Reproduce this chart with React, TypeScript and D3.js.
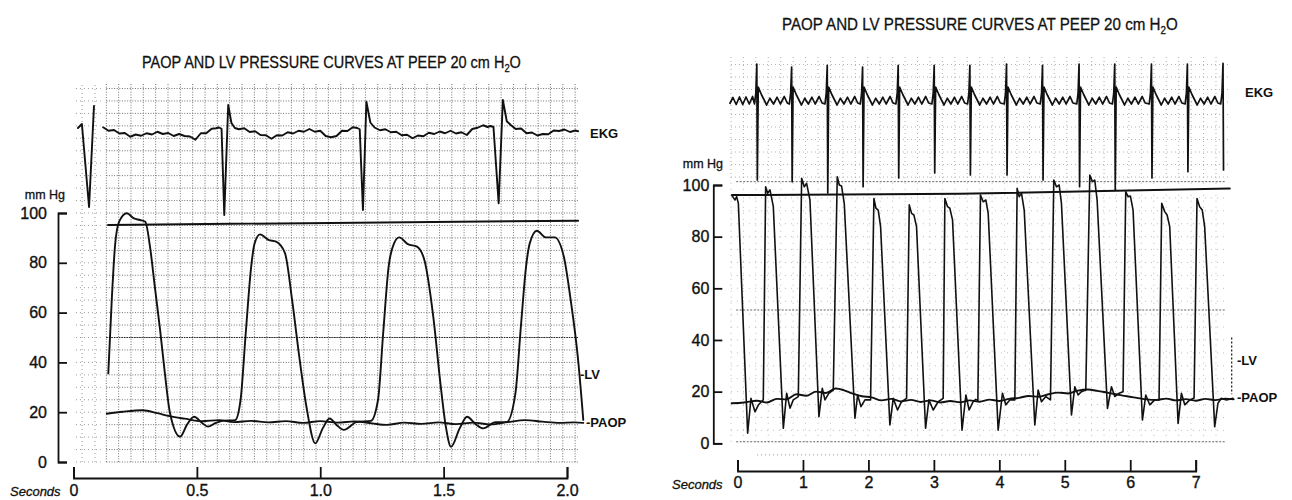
import React, { useEffect, useRef } from "react";
import * as d3 from "d3";

type Pt = [number, number];

const WIDTH = 1292;
const HEIGHT = 500;

const titleMain = "PAOP AND LV PRESSURE CURVES AT PEEP 20 cm H";
const titleSub = "2";
const titleEnd = "O";

const pressureTicks = [0, 20, 40, 60, 80, 100];
const secondsTicksLeft = [0, 0.5, 1.0, 1.5, 2.0];
const secondsTicksRight = [0, 1, 2, 3, 4, 5, 6, 7];

// ---- left strip: [seconds, mmHg] ----
const lvLeft: Pt[] = [
  [0.141, 35.6], [0.155, 65], [0.168, 86.5], [0.185, 96.5], [0.216, 99.9], [0.245, 97.8],
  [0.27, 97.2], [0.291, 96.5], [0.31, 86.5], [0.33, 70], [0.351, 53], [0.371, 35],
  [0.391, 19.7], [0.432, 10.2], [0.46, 15], [0.489, 18.2], [0.52, 15.8], [0.545, 14.2],
  [0.575, 15.6], [0.61, 16.6], [0.655, 16.8], [0.677, 24.9], [0.698, 51.7], [0.72, 78.4],
  [0.734, 87.8], [0.756, 91.4], [0.79, 89.2], [0.821, 88.5], [0.857, 83.9], [0.886, 65],
  [0.915, 42.3], [0.944, 22.2], [0.98, 7.5], [1.01, 13.5], [1.038, 17.5], [1.065, 15],
  [1.096, 12.9], [1.147, 16], [1.205, 16.5], [1.234, 24.9], [1.255, 51.7], [1.277, 78.4],
  [1.299, 87.8], [1.32, 90.2], [1.355, 87.5], [1.392, 86.5], [1.422, 81.1], [1.458, 58.4],
  [1.487, 31.6], [1.509, 14.2], [1.53, 6.1], [1.565, 13.5], [1.595, 18.2], [1.63, 15.2],
  [1.66, 13.5], [1.711, 16], [1.755, 16], [1.791, 27.6], [1.813, 54.3], [1.834, 78.4],
  [1.849, 87.8], [1.878, 92.9], [1.914, 90.2], [1.95, 90.2], [1.987, 82.5], [2.015, 65],
  [2.045, 41], [2.066, 16.9],
];

const paopLeft: Pt[] = [
  [0.135, 19.4], [0.2, 20.2], [0.28, 20.8], [0.34, 19.6], [0.39, 18.4], [0.45, 17.4],
  [0.52, 16.4], [0.59, 16.8], [0.65, 16], [0.72, 16.5], [0.79, 15.9], [0.86, 16.4],
  [0.93, 15.7], [1.0, 16.4], [1.07, 15.8], [1.14, 16.3], [1.21, 15.5], [1.27, 14.9],
  [1.34, 15.8], [1.41, 15.3], [1.48, 15.9], [1.55, 15.2], [1.62, 15.8], [1.69, 15.1],
  [1.76, 16], [1.83, 16.8], [1.9, 16.2], [1.97, 15.7], [2.03, 15.9], [2.066, 15.7],
];

// EKG in arbitrary units (0 = baseline)
const ekgLeft: Pt[] = [
  [0.12, 0.11], [0.142, -0.03], [0.164, 0.0], [0.186, -0.14], [0.208, -0.12], [0.23, -0.27],
  [0.252, -0.18], [0.274, -0.23], [0.296, -0.13], [0.318, -0.18], [0.34, -0.07], [0.362, -0.16],
  [0.384, -0.12], [0.406, -0.24], [0.428, -0.16], [0.45, -0.24], [0.472, -0.26], [0.494, -0.39],
  [0.516, -0.13], [0.538, -0.13], [0.56, 0.05], [0.578, 0.07],
  [0.59, 0.1], [0.6, 0.05], [0.611, -3.4], [0.627, 1.0], [0.64, 0.28], [0.654, 0.08],
  [0.67, 0.03], [0.692, 0.07], [0.714, -0.08], [0.736, -0.05], [0.758, -0.2], [0.78, -0.21],
  [0.802, -0.35], [0.824, -0.21], [0.846, -0.22], [0.868, -0.09], [0.89, -0.14], [0.912, -0.03],
  [0.934, -0.07], [0.956, 0.04], [0.978, -0.07], [1.0, -0.03], [1.022, -0.24], [1.044, -0.29],
  [1.066, -0.24], [1.088, -0.03], [1.11, -0.04], [1.132, 0.11],
  [1.15, 0.08], [1.16, 0.03], [1.173, -3.2], [1.187, 1.13], [1.203, 0.3], [1.22, 0.1],
  [1.242, -0.01], [1.264, 0.03], [1.286, -0.09], [1.308, -0.07], [1.33, -0.21], [1.352, -0.19],
  [1.374, -0.33], [1.396, -0.22], [1.418, -0.25], [1.44, -0.11], [1.462, -0.16], [1.484, -0.06],
  [1.506, -0.13], [1.528, -0.03], [1.55, -0.14], [1.572, -0.09], [1.594, -0.2], [1.616, 0.04],
  [1.638, 0.09], [1.66, 0.19], [1.678, 0.12],
  [1.69, 0.16], [1.702, 0.12], [1.723, -2.93], [1.74, 1.2], [1.756, 0.35], [1.772, 0.2],
  [1.792, 0.04], [1.814, 0.06], [1.836, -0.13], [1.858, -0.1], [1.88, -0.22], [1.902, -0.16],
  [1.924, -0.17], [1.946, -0.02], [1.968, -0.04], [1.99, 0.02], [2.012, -0.08], [2.034, -0.02],
  [2.045, -0.05],
];
const ekgLeftStrip: Pt[] = [[0.018, 0.08], [0.034, 0.24], [0.063, -3.08], [0.083, 0.96]];
const refLeft: Pt[] = [[0.14, 95.2], [2.045, 96.9]];

// ---- right strip ----
const lvRight: Pt[] = [
  [-0.089, 96.1], [-0.06, 95], [-0.038, 94.2], [-0.013, 95.5], [0.013, 92.9], [0.155, 3.9],
  [0.206, 17.4], [0.267, 12.2], [0.318, 14.8], [0.379, 16.5],
  [0.394, 16.8], [0.43, 99.3], [0.461, 96.8], [0.496, 98.1], [0.547, 91.7], [0.7, 5.8],
  [0.751, 19.4], [0.802, 13.6], [0.852, 16.8],
  [0.929, 18.1], [0.98, 102.6], [1.02, 99.3], [1.056, 100.6], [1.107, 94.2], [1.244, 10.3],
  [1.295, 21.3], [1.336, 16.8], [1.397, 19.4],
  [1.463, 20.6], [1.524, 103.2], [1.555, 100], [1.59, 99.6], [1.631, 92.9], [1.794, 9.7],
  [1.835, 18.7], [1.886, 14.2], [1.947, 16.8],
  [2.033, 16.8], [2.084, 94.8], [2.115, 91], [2.15, 90.3], [2.186, 83.9], [2.328, 7.1],
  [2.379, 17.4], [2.445, 12.9], [2.506, 16.1],
  [2.583, 17.4], [2.624, 92.3], [2.659, 89], [2.695, 88.4], [2.735, 83.9], [2.873, 5.8],
  [2.924, 16.8], [2.99, 12.9], [3.066, 16.1],
  [3.142, 17.4], [3.168, 94.8], [3.209, 91.6], [3.244, 91], [3.285, 86.5], [3.43, 5.1],
  [3.489, 18.7], [3.539, 12.9], [3.6, 16.1], [3.64, 17],
  [3.672, 16.5], [3.712, 96.1], [3.753, 93.5], [3.794, 94.2], [3.83, 89], [3.982, 5.1],
  [4.048, 19.4], [4.099, 14.9], [4.16, 16.8],
  [4.237, 16.8], [4.272, 98.7], [4.303, 95.5], [4.339, 96.8], [4.38, 90.3], [4.542, 7.1],
  [4.593, 20.6], [4.644, 16.1], [4.71, 18.1],
  [4.781, 16.8], [4.832, 101.9], [4.873, 99.3], [4.914, 100], [4.949, 92.9], [5.102, 11],
  [5.153, 21.9], [5.204, 18.7], [5.254, 20],
  [5.321, 20.6], [5.382, 103.9], [5.422, 101.3], [5.458, 101.9], [5.494, 94.2], [5.652, 13.5],
  [5.713, 21.9], [5.764, 18.1], [5.83, 19.4],
  [5.89, 20], [5.931, 97.4], [5.967, 95.5], [6.003, 95.7], [6.043, 90.3], [6.186, 9],
  [6.237, 18.7], [6.298, 14.9], [6.374, 16.8],
  [6.44, 16.8], [6.481, 92.9], [6.527, 89.7], [6.563, 88.4], [6.603, 83.9], [6.731, 7.7],
  [6.782, 19.4], [6.833, 14.9], [6.909, 16.8],
  [6.975, 17.5], [7.02, 94.8], [7.06, 91.6], [7.1, 90.3], [7.137, 83.9], [7.29, 6.4],
  [7.34, 15.5], [7.39, 17.4], [7.468, 16.8], [7.57, 17.4],
];

const paopRight: Pt[] = [
  [-0.09, 15.5], [0.1, 15.8], [0.3, 16.5], [0.45, 15.8], [0.6, 17.2], [0.75, 17], [0.9, 19],
  [1.05, 18.4], [1.2, 20], [1.35, 19.5], [1.5, 21.2], [1.62, 20.6], [1.75, 19.3], [1.9, 18.2],
  [2.05, 17.8], [2.2, 16.6], [2.35, 17.2], [2.5, 16.2], [2.65, 16.8], [2.8, 16], [2.95, 16.6],
  [3.1, 15.8], [3.25, 16.4], [3.4, 15.9], [3.55, 16.6], [3.7, 16.1], [3.85, 16.9], [4.0, 16.4],
  [4.15, 17.2], [4.3, 17.6], [4.45, 18.3], [4.6, 18], [4.75, 19], [4.9, 19.6], [5.05, 19.3],
  [5.2, 20.4], [5.35, 20.8], [5.5, 20.3], [5.65, 19.6], [5.8, 18.9], [5.95, 18.2], [6.1, 17.6],
  [6.25, 17], [6.4, 16.8], [6.55, 17.3], [6.7, 16.6], [6.85, 17.1], [7.0, 16.5], [7.15, 17.2],
  [7.3, 16.7], [7.45, 17.3], [7.58, 17],
];

const ekgRightLead: Pt[] = [
  [-0.115, -0.05], [-0.07, 0.18], [-0.02, -0.1], [0.03, 0.2], [0.08, -0.1], [0.13, 0.2],
  [0.18, -0.08], [0.23, 0.22],
];
const ekgRightSpikeT = [0.295, 0.827, 1.371, 1.911, 2.455, 3.005, 3.55, 4.11, 4.66, 5.218, 5.763, 6.324, 6.873, 7.417];
const ekgRightTop = [1.52, 1.4, 1.47, 1.4, 1.47, 1.47, 1.47, 1.52, 1.47, 1.52, 1.52, 1.52, 1.52, 1.55];
const ekgRightBottom = [-3.12, -3.19, -3.64, -3.39, -3.04, -2.84, -2.92, -2.92, -3.12, -3.39, -3.52, -3.04, -2.79, -2.72];
const ekgRightWaveOffset = [-0.035, -0.015, 0, 0.008, 0.022, 0.07, 0.15, 0.2, 0.255, 0.31, 0.36, 0.42, 0.465];
const ekgRightWaveValue = [-0.08, 0.36, NaN, NaN, 0.6, 0.3, -0.12, 0.15, -0.08, 0.19, -0.08, 0.22, -0.04];
const refRight: Pt[] = [[-0.08, 96.1], [3.4, 96.6], [7.52, 98.6]];

const ekgRight: Pt[] = [...ekgRightLead];
ekgRightSpikeT.forEach((ts, i) => {
  const last = i === ekgRightSpikeT.length - 1;
  ekgRightWaveOffset.forEach((off, j) => {
    if (last && off > 0.01) return;
    const v = j === 2 ? ekgRightTop[i] : j === 3 ? ekgRightBottom[i] : ekgRightWaveValue[j];
    ekgRight.push([ts + off, v]);
  });
});

const FONT = "'Liberation Sans', Arial, sans-serif";
const INK = "#111";

const panels = [
  {
    x: d3.scaleLinear().domain([0, 2]).range([73.5, 567]),
    y: d3.scaleLinear().domain([0, 100]).range([462, 213]),
    ekgY: d3.scaleLinear().domain([-4, 2]).range([230, 80]),
    lv: lvLeft, paop: paopLeft, ekg: ekgLeft, ekgExtra: ekgLeftStrip, ref: refLeft,
    smooth: true,
    xTicks: secondsTicksLeft,
    xFormat: (d: number) => (d === 0 ? "0" : d3.format(".1f")(d)),
    axisX: 58, axisY: 478, yPad: 11, xPad: 7,
    title: { x: 142, y: 68, len: 379 },
    mmHg: { x: 65, y: 199 },
    seconds: { x: 10, y: 496 },
    ekgLabel: { x: 590, v: -0.12 },
    lvLabel: { x: 580, v: 35 },
    paopLabel: { x: 586, v: 15.7 },
    grid: [
      { ekg: false, t0: 0.133, t1: 2.045, v0: 0, v1: 152, cols: d3.range(0.133, 2.05, 0.05), rows: d3.range(0, 153, 5), dash: "1 1.6", op: 0.55 },
      { ekg: false, t0: 0.133, t1: 2.045, v0: 0, v1: 0, cols: [], rows: [50], dash: "1.5 1", op: 0.8 },
      { ekg: false, t0: 0.01, t1: 0.11, v0: 0, v1: 152, cols: [0.035, 0.087], rows: d3.range(0, 153, 5), dash: "1 3", op: 0.4 },
    ],
  },
  {
    x: d3.scaleLinear().domain([0, 7]).range([737.5, 1195.7]),
    y: d3.scaleLinear().domain([0, 100]).range([443.3, 185]),
    ekgY: d3.scaleLinear().domain([-4, 2]).range([202, 52]),
    lv: lvRight, paop: paopRight, ekg: ekgRight, ekgExtra: null, ref: refRight,
    smooth: false,
    xTicks: secondsTicksRight,
    xFormat: (d: number) => String(d),
    axisX: 713.3, axisY: 471, yPad: 4, xPad: 6,
    title: { x: 782, y: 30, len: 396 },
    mmHg: { x: 723, y: 168 },
    seconds: { x: 672, y: 489 },
    ekgLabel: { x: 1245, v: 0.4 },
    lvLabel: { x: 1237, v: 32.2 },
    paopLabel: { x: 1237, v: 17.9 },
    grid: [
      { ekg: true, t0: -0.1, t1: 7.5, v0: -3.04, v1: 1.88, cols: d3.range(-0.1, 7.5, 0.19), rows: d3.range(-3, 1.9, 0.5), dash: "1 3", op: 0.3 },
      { ekg: false, t0: -0.1, t1: 7.5, v0: 0.6, v1: 102, cols: d3.range(-0.1, 7.5, 0.19), rows: d3.range(5, 100, 5), dash: "1 5", op: 0.25 },
      { ekg: false, t0: -0.02, t1: 7.45, v0: 0, v1: 0, cols: [], rows: [0.6, 51.6, 101.3], dash: "2 1.5", op: 0.6 },
      { ekg: false, t0: 0.3, t1: 4.6, v0: 0, v1: 0, cols: [], rows: [-4.5], dash: "1 3", op: 0.4 },
    ],
  },
];

type Panel = (typeof panels)[number];

function drawPanel(svg: d3.Selection<SVGSVGElement, unknown, null, undefined>, p: Panel) {
  const { x, y, ekgY } = p;
  const g = svg.append("g");

  // chart paper grid
  p.grid.forEach((gr) => {
    const ys = gr.ekg ? ekgY : y;
    const gg = g.append("g").attr("stroke", "#000").attr("stroke-width", 1)
      .attr("stroke-dasharray", gr.dash).attr("opacity", gr.op);
    gr.cols.forEach((t) => {
      gg.append("line").attr("x1", x(t)).attr("x2", x(t)).attr("y1", ys(gr.v0)).attr("y2", ys(gr.v1));
    });
    gr.rows.forEach((v) => {
      gg.append("line").attr("x1", x(gr.t0)).attr("x2", x(gr.t1)).attr("y1", ys(v)).attr("y2", ys(v));
    });
  });

  const pLine = d3.line<Pt>().x((d) => x(d[0])).y((d) => y(d[1]));
  const eLine = d3.line<Pt>().x((d) => x(d[0])).y((d) => ekgY(d[1]));
  const smoothLine = d3.line<Pt>().x((d) => x(d[0])).y((d) => y(d[1])).curve(d3.curveMonotoneX);

  const trace = (d: string | null, w: number) =>
    g.append("path").attr("d", d).attr("fill", "none").attr("stroke", INK)
      .attr("stroke-width", w).attr("stroke-linejoin", "round").attr("stroke-linecap", "round");

  trace(pLine(p.ref), 2);
  trace(eLine(p.ekg), p.smooth ? 1.9 : 1.7);
  if (p.ekgExtra) trace(eLine(p.ekgExtra), 1.9);
  trace(smoothLine(p.paop), 1.9);
  trace(p.smooth ? smoothLine(p.lv) : pLine(p.lv), p.smooth ? 1.9 : 1.6);

  // axes
  const yAxis = d3.axisLeft(y).tickValues(pressureTicks).tickSize(-9).tickSizeOuter(-9)
    .tickPadding(p.yPad).tickFormat((d) => String(d));
  const ya = g.append("g").attr("transform", `translate(${p.axisX},0)`).call(yAxis);
  const xAxis = d3.axisBottom(x).tickValues(p.xTicks).tickSize(-11).tickSizeOuter(-11)
    .tickPadding(p.xPad).tickFormat((d) => p.xFormat(d as number));
  const xa = g.append("g").attr("transform", `translate(0,${p.axisY})`).call(xAxis);
  [ya, xa].forEach((a) => {
    a.attr("font-family", FONT).attr("font-size", 16);
    a.selectAll("path, line").attr("stroke", INK).attr("stroke-width", 1.8);
    a.selectAll("text").attr("fill", INK).attr("stroke", INK).attr("stroke-width", 0.35);
  });

  // title: one text, squeezed horizontally to the width of the printed one
  const tt = g.append("text").attr("font-family", FONT).attr("font-size", 17)
    .attr("fill", INK).attr("stroke", INK).attr("stroke-width", 0.3);
  tt.append("tspan").text(titleMain);
  tt.append("tspan").attr("dy", 4).attr("font-size", 11).text(titleSub);
  tt.append("tspan").attr("dy", -4).text(titleEnd);
  const natural = (tt.node() as SVGTextElement).getComputedTextLength() || p.title.len;
  tt.attr("transform", `translate(${p.title.x},${p.title.y}) scale(${p.title.len / natural},1)`);

  const label = (tx: number, ty: number, s: string) =>
    g.append("text").attr("x", tx).attr("y", ty).attr("dy", "0.35em")
      .attr("font-family", FONT).attr("font-size", 13).attr("font-weight", "bold")
      .attr("fill", INK).text(s);

  g.append("text").attr("x", p.mmHg.x).attr("y", p.mmHg.y).attr("text-anchor", "end")
    .attr("font-family", FONT).attr("font-size", 12.5).attr("fill", INK)
    .attr("stroke", INK).attr("stroke-width", 0.3).text("mm Hg");
  g.append("text").attr("x", p.seconds.x).attr("y", p.seconds.y)
    .attr("font-family", FONT).attr("font-size", 13).attr("font-style", "italic")
    .attr("fill", INK).attr("stroke", INK).attr("stroke-width", 0.3).text("Seconds");

  label(p.ekgLabel.x, ekgY(p.ekgLabel.v), "EKG");
  label(p.lvLabel.x, y(p.lvLabel.v), "-LV");
  label(p.paopLabel.x, y(p.paopLabel.v), "-PAOP");
}

export default function App() {
  const ref = useRef<SVGSVGElement>(null);

  useEffect(() => {
    if (!ref.current) return;
    const svg = d3.select(ref.current);
    svg.selectAll("*").remove();
    svg.append("rect").attr("width", WIDTH).attr("height", HEIGHT).attr("fill", "#fff");
    panels.forEach((p) => drawPanel(svg, p));
    // calibration mark next to the right LV label
    const r = panels[1];
    svg.append("line").attr("x1", r.x(7.55)).attr("x2", r.x(7.55)).attr("y1", r.y(41)).attr("y2", r.y(19))
      .attr("stroke", INK).attr("stroke-width", 1.2).attr("stroke-dasharray", "2 2");
  }, []);

  return (
    <svg ref={ref} width={WIDTH} height={HEIGHT} style={{ position: "absolute", left: 0, top: 0, background: "#fff" }} />
  );
}
